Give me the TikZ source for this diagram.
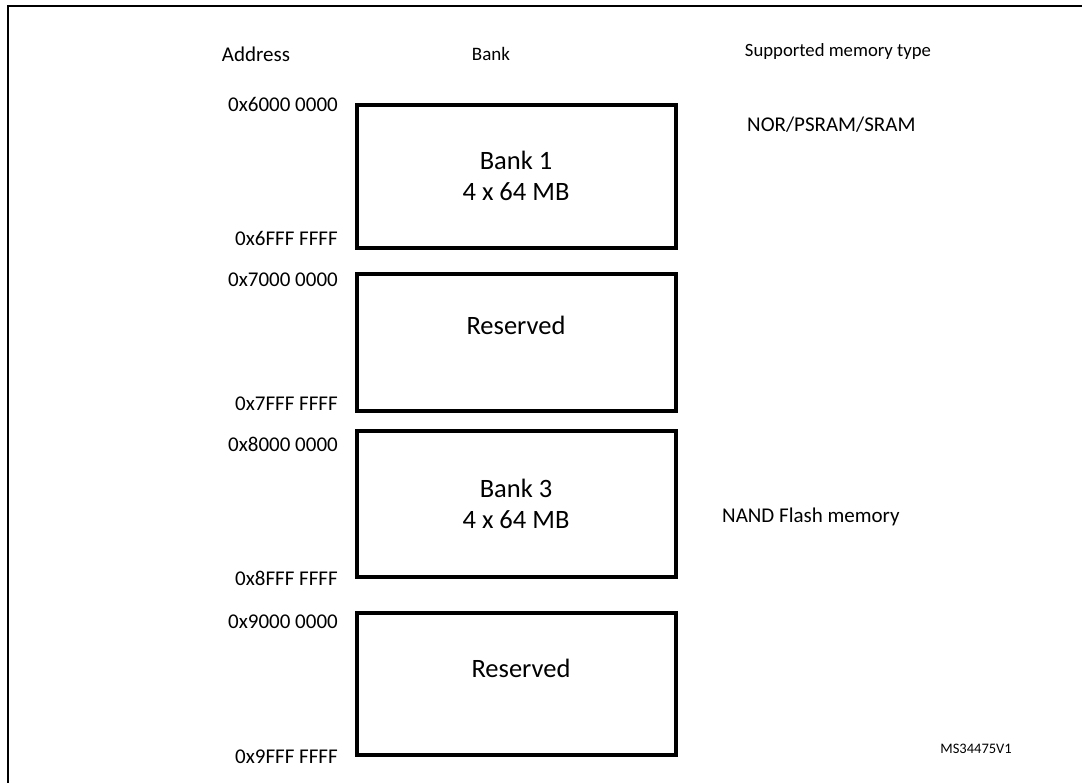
\documentclass[tikz,border=0pt]{standalone}
\usepackage{fontspec}
\setmainfont{Carlito}
\begin{document}
\begin{tikzpicture}[x=1pt,y=-1pt,
  bankbox/.style={draw=black,line width=4pt,rectangle,minimum width=319pt,inner sep=0pt},
  addr/.style={anchor=east,inner sep=0pt,font=\fontsize{21}{25}\selectfont},
  head/.style={inner sep=0pt,font=\fontsize{21}{25}\selectfont},
  btext/.style={inner sep=0pt,align=center,font=\fontsize{26.5}{31}\selectfont},
  mtype/.style={anchor=west,inner sep=0pt,font=\fontsize{21}{25}\selectfont}]
\useasboundingbox (0,0) rectangle (1082,783);
% outer frame
\draw[line width=2.2pt] (8,800) -- (8,6) -- (1100,6);
% headers
\node[head] (hAddr) at (256,54) {Address};
\node[head,font=\fontsize{19}{23}\selectfont] (hBank) at (491,54) {Bank};
\node[head,font=\fontsize{18.7}{23}\selectfont] (hType) at (838,52) {Supported memory type};
% bank boxes
\node[bankbox,minimum height=143pt] (b1) at (516.5,176.5) {};
\node[bankbox,minimum height=137pt] (b2) at (516.5,343) {};
\node[bankbox,minimum height=146pt] (b3) at (516.5,504) {};
\node[bankbox,minimum height=142pt] (b4) at (516.5,683.5) {};
% box texts
\node[btext] (t1) at (516,176) {Bank 1\\4 x 64 MB};
\node[btext] (t2) at (516,325) {Reserved};
\node[btext] (t3) at (516,504) {Bank 3\\4 x 64 MB};
\node[btext] (t4) at (521,668) {Reserved};
% addresses
\node[addr] (a1) at (338,104) {0x6000 0000};
\node[addr] (a2) at (338,238) {0x6FFF FFFF};
\node[addr] (a3) at (338,280) {0x7000 0000};
\node[addr] (a4) at (338,404) {0x7FFF FFFF};
\node[addr] (a5) at (338,444) {0x8000 0000};
\node[addr] (a6) at (338,578) {0x8FFF FFFF};
\node[addr] (a7) at (338,622) {0x9000 0000};
\node[addr] (a8) at (338,757) {0x9FFF FFFF};
% memory types
\node[mtype] (m1) at (747,125) {NOR/PSRAM/SRAM};
\node[mtype] (m2) at (722,517) {NAND Flash memory};
% id
\node[anchor=east,inner sep=0pt,font=\fontsize{14.5}{16}\selectfont] (id) at (1012,749) {MS34475V1};
\end{tikzpicture}
\end{document}
